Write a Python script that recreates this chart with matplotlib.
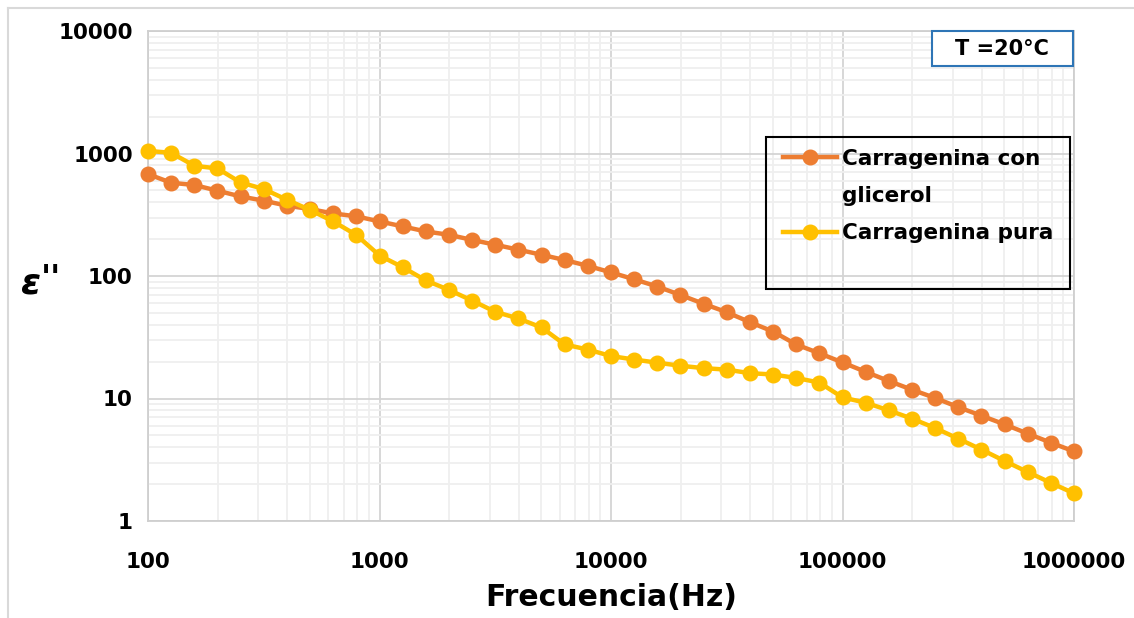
import matplotlib
matplotlib.use("Agg")
import matplotlib.pyplot as plt
from matplotlib.lines import Line2D
from matplotlib.patches import Rectangle
import numpy as np

# ---- data ----
frequency_hz = [100, 125.9, 158.5, 199.5, 251.2, 316.2, 398.1, 501.2, 631.0, 794.3,
                1000, 1259, 1585, 1995, 2512, 3162, 3981, 5012, 6310, 7943,
                10000, 12589, 15849, 19953, 25119, 31623, 39811, 50119, 63096, 79433,
                100000, 125893, 158489, 199526, 251189, 316228, 398107, 501187, 630957, 794328,
                1000000]

eps_glicerol = [679, 577, 553, 497, 446, 412, 375, 352, 324, 307,
                279, 254, 231, 217, 197, 180, 164, 149, 135, 121,
                107, 94, 82, 70, 59.3, 50.6, 42, 35.2, 27.6, 23.4,
                19.7, 16.5, 13.9, 11.8, 10.1, 8.5, 7.24, 6.15, 5.17, 4.36,
                3.7]

eps_pura = [1050, 1013, 794, 755, 580, 513, 419, 346, 279, 216,
            147, 118, 92, 77, 63, 51, 45, 38, 27.6, 25.1,
            22.2, 20.8, 19.6, 18.5, 17.7, 17.2, 16.1, 15.7, 14.7, 13.5,
            10.2, 9.24, 8.0, 6.85, 5.74, 4.70, 3.83, 3.09, 2.51, 2.05,
            1.68]

x_ticks = [100, 1000, 10000, 100000, 1000000]
x_tick_labels = ["100", "1000", "10000", "100000", "1000000"]
y_ticks = [1, 10, 100, 1000, 10000]
y_tick_labels = ["1", "10", "100", "1000", "10000"]

label_glicerol = "Carragenina con"
label_glicerol_2 = "glicerol"
label_pura = "Carragenina pura"

# ---- figure ----
W, H = 1134, 618
fig = plt.figure(figsize=(W / 100, H / 100), dpi=100)
fig.patch.set_facecolor("white")
plt.rcParams['font.family'] = ['DejaVu Sans']

def fx(px):
    return px / W

def fy(py):
    return 1 - py / H

# outer chart border: only top and left edges are visible in the reference
fig.add_artist(Line2D([fx(8), 1.0], [fy(8), fy(8)], transform=fig.transFigure,
                      color="#d9d9d9", linewidth=1.5))
fig.add_artist(Line2D([fx(8), fx(8)], [fy(8), 0.0], transform=fig.transFigure,
                      color="#d9d9d9", linewidth=1.5))

ax = fig.add_axes([fx(148), fy(521), fx(1074) - fx(148), fy(31) - fy(521)])
ax.set_xscale("log")
ax.set_yscale("log")
ax.set_xlim(100, 1000000)
ax.set_ylim(1, 10000)

major_c = "#d4d4d4"
minor_c = "#efefef"
ax.grid(True, which="major", color=major_c, linewidth=1.3, zorder=0)
ax.grid(True, which="minor", color=minor_c, linewidth=1.3, zorder=0)
ax.set_axisbelow(True)
for s in ax.spines.values():
    s.set_color("#cfcfcf")
    s.set_linewidth(1.3)

orange = "#ED7D31"
yellow = "#FFC000"
l1, = ax.plot(frequency_hz, eps_glicerol, color=orange, linewidth=3.2,
              marker="o", markersize=10.5, zorder=3, clip_on=False)
l2, = ax.plot(frequency_hz, eps_pura, color=yellow, linewidth=3.2,
              marker="o", markersize=10.5, zorder=3, clip_on=False)

ax.set_xticks(x_ticks)
ax.set_xticklabels(x_tick_labels)
ax.set_yticks(y_ticks)
ax.set_yticklabels(y_tick_labels)
ax.tick_params(axis="both", which="both", length=0)
ax.tick_params(axis="x", pad=22, labelsize=15.5)
ax.tick_params(axis="y", pad=11, labelsize=15.5)
for t in ax.get_xticklabels() + ax.get_yticklabels():
    t.set_fontweight("bold")

# axis titles
fig.text(fx(611), fy(597), "Frecuencia(Hz)", ha="center", va="center",
         fontsize=21.5, fontweight="bold")
fig.text(fx(30), fy(284), "ε", ha="center", va="center",
         fontsize=26, fontweight="bold", fontstyle="italic")
fig.text(fx(51), fy(280), "''", ha="center", va="center",
         fontsize=24, fontweight="bold")

# legend (three rows so the handle sits on the first text line)
blank = Line2D([], [], color="none")
leg = ax.legend([l1, blank, l2], [label_glicerol, label_glicerol_2, label_pura],
                loc="upper left",
                bbox_to_anchor=(fx(783), fy(149)), bbox_transform=fig.transFigure,
                frameon=False, fontsize=15.5, handlelength=2.5,
                handletextpad=0.25, labelspacing=0.8, borderpad=0,
                borderaxespad=0)
for t in leg.get_texts():
    t.set_fontweight("bold")
fig.add_artist(Rectangle((fx(766), fy(289)), fx(1070) - fx(766), fy(137) - fy(289),
                         transform=fig.transFigure, fill=False,
                         edgecolor="black", linewidth=1.5, zorder=5))

# temperature box
fig.add_artist(Rectangle((fx(932), fy(66)), fx(1073) - fx(932), fy(31) - fy(66),
                         transform=fig.transFigure, facecolor="white",
                         edgecolor="#2E75B6", linewidth=1.5, zorder=5))
fig.text(fx(1002), fy(49), "T =20°C", ha="center", va="center",
         fontsize=15, fontweight="bold", zorder=6)

fig.savefig("out.png", dpi=100)
